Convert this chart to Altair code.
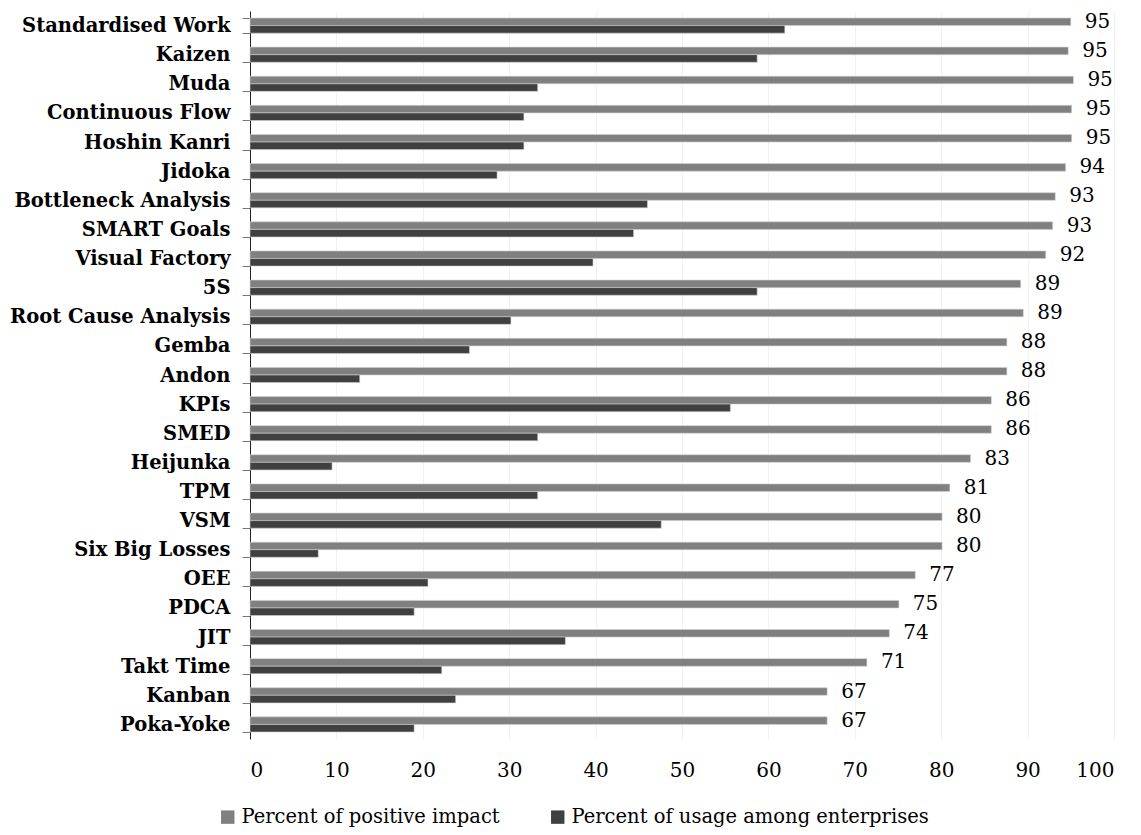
import altair as alt
import pandas as pd

categories = [
    "Standardised Work", "Kaizen", "Muda", "Continuous Flow", "Hoshin Kanri\u00a0",
    "Jidoka", "Bottleneck Analysis", "SMART Goals", "Visual Factory", "5S",
    "Root Cause Analysis", "Gemba", "Andon", "KPIs", "SMED", "Heijunka", "TPM",
    "VSM", "Six Big Losses", "OEE", "PDCA", "JIT", "Takt Time", "Kanban", "Poka-Yoke",
]
impact = [95.0, 94.7, 95.3, 95.1, 95.1, 94.4, 93.2, 92.9, 92.1, 89.2, 89.5, 87.6, 87.6,
          85.8, 85.8, 83.4, 81.0, 80.1, 80.1, 77.0, 75.1, 74.0, 71.4, 66.8, 66.8]
usage = [61.9, 58.7, 33.3, 31.7, 31.7, 28.6, 46.0, 44.4, 39.7, 58.7, 30.2, 25.4, 12.7,
         55.6, 33.3, 9.5, 33.3, 47.6, 7.9, 20.6, 19.0, 36.5, 22.2, 23.8, 19.0]
impact_labels = ["95", "95", "95", "95", "95", "94", "93", "93", "92", "89", "89", "88", "88",
                 "86", "86", "83", "81", "80", "80", "77", "75", "74", "71", "67", "67"]
series_names = ["Percent of positive impact", "Percent of usage among enterprises"]
series_colors = ["#808080", "#404040"]
x_ticks = [0, 10, 20, 30, 40, 50, 60, 70, 80, 90, 100]

rows = []
for c, a, b, l in zip(categories, impact, usage, impact_labels):
    rows.append({"technique": c, "series": series_names[0], "value": a, "label": l})
    rows.append({"technique": c, "series": series_names[1], "value": b, "label": ""})
df = pd.DataFrame(rows)

FONT = "DejaVu Serif"

y_enc = alt.Y(
    "technique:N",
    sort=categories,
    scale=alt.Scale(paddingInner=0.48, paddingOuter=0.24),
    axis=alt.Axis(
        title=None, tickBand="extent", labelFont=FONT, labelFontWeight="bold",
        labelFontSize=19.5, labelColor="black", labelLimit=0, domainColor="#222222",
        tickColor="#777777", tickSize=8, labelPadding=12,
    ),
)
yoff_enc = alt.YOffset("series:N", sort=series_names,
                       scale=alt.Scale(domain=series_names, paddingInner=0))
x_enc = alt.X(
    "value:Q",
    scale=alt.Scale(domain=[0, 100]),
    axis=alt.Axis(
        title=None, values=x_ticks, domain=False, ticks=False, labelFont=FONT,
        labelFontSize=20, labelColor="black", labelPadding=21, grid=True,
        gridColor="#f2f2f2",
    ),
)
color_enc = alt.Color(
    "series:N",
    sort=series_names,
    scale=alt.Scale(domain=series_names, range=series_colors),
    legend=alt.Legend(
        orient="none", legendX=-32, legendY=796, title=None, direction="horizontal",
        symbolType="square", symbolSize=180, symbolStrokeWidth=0, labelFont=FONT,
        labelFontSize=19.5, labelColor="black", labelLimit=0, columnPadding=48,
    ),
)

bars = alt.Chart(df).mark_bar(stroke="#d0d0d0", strokeWidth=0.6).encode(
    y=y_enc, yOffset=yoff_enc, x=x_enc, color=color_enc
)

labels = alt.Chart(df).transform_filter(
    alt.datum.series == series_names[0]
).mark_text(align="left", baseline="middle", dx=14, font=FONT, fontSize=20, color="black").encode(
    y=y_enc,
    yOffset=yoff_enc,
    x=x_enc,
    text="label:N",
)

chart = alt.layer(bars, labels).properties(
    width=864, height=728, background="white",
    autosize=alt.AutoSizeParams(type="none"),
    padding={"top": 3, "left": 242, "right": 16, "bottom": 94},
).configure_view(strokeWidth=0)

chart.save("out.html", embed_options={"renderer": "svg", "actions": False})
